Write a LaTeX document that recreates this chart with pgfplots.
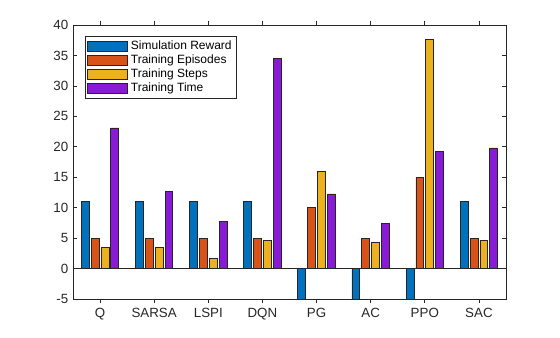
\documentclass[border=0pt]{standalone}
\usepackage{fontspec}
\setmainfont{Liberation Sans}
\usepackage{pgfplots}
\pgfplotsset{compat=1.18}
\definecolor{c1}{RGB}{0,114,189}
\definecolor{c2}{RGB}{217,83,25}
\definecolor{c3}{RGB}{237,177,32}
\definecolor{c4}{RGB}{137,26,214}
\definecolor{axc}{RGB}{38,38,38}
\pgfplotsset{/pgfplots/ybar legend/.style={/pgfplots/legend image code/.code={\draw[##1] (0pt,-3.6pt) rectangle (30pt,3.6pt);}}}
\begin{document}
\begin{tikzpicture}
\path[use as bounding box] (-54.75pt,-28.5pt) rectangle (365.25pt,224.25pt);
\begin{axis}[
  scale only axis, width=324.75pt, height=205.5pt,
  at={(0,0)}, anchor=south west,
  xmin=0.5, xmax=8.5, ymin=-5, ymax=40,
  xtick={1,...,8}, xticklabels={Q,SARSA,LSPI,DQN,PG,AC,PPO,SAC},
  ytick={-5,0,5,10,15,20,25,30,35,40}, yticklabels={-5,0,5,10,15,20,25,30,35,40},
  tick align=inside, major tick length=3.2pt,
  axis line style={axc, line width=0.5pt},
  tick style={axc, line width=0.5pt},
  ticklabel style={font=\fontsize{10}{12}\selectfont, text=axc},
  ybar, bar width=0.1455,
  legend style={at={(0.028,0.96)}, anchor=north west, draw=axc, fill=white, line width=0.5pt,
    font=\fontsize{9}{10.9}\selectfont, inner sep=1.5pt, row sep=-1.5pt},
  legend cell align=left,
]
\addplot[fill=c1, draw=black!85, line width=0.6pt, bar shift=-0.2727] coordinates {(1,11) (2,11) (3,11) (4,11) (5,-5) (6,-5) (7,-5) (8,11)};
\addplot[fill=c2, draw=black!85, line width=0.6pt, bar shift=-0.0909] coordinates {(1,5) (2,5) (3,5) (4,5) (5,10) (6,5) (7,15) (8,5)};
\addplot[fill=c3, draw=black!85, line width=0.6pt, bar shift=0.0909] coordinates {(1,3.4) (2,3.4) (3,1.6) (4,4.6) (5,16) (6,4.25) (7,37.6) (8,4.6)};
\addplot[fill=c4, draw=black!85, line width=0.6pt, bar shift=0.2727] coordinates {(1,23.1) (2,12.7) (3,7.8) (4,34.5) (5,12.25) (6,7.35) (7,19.3) (8,19.8)};
\draw[axc, line width=0.5pt] (axis cs:0.5,0) -- (axis cs:8.5,0);
\legend{Simulation Reward, Training Episodes, Training Steps, Training Time}
\end{axis}
\end{tikzpicture}
\end{document}
